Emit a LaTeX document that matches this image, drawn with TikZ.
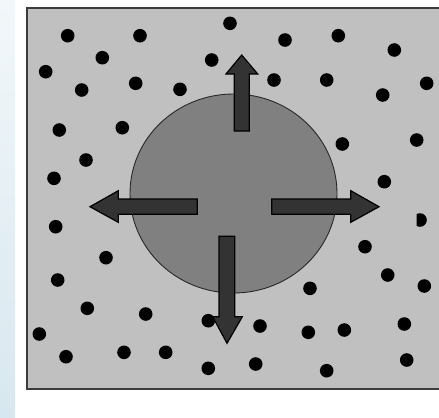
\documentclass[tikz,border=0pt]{standalone}
\usepackage{xcolor}
\usepackage{tikz}
\definecolor{bggray}{RGB}{192,192,192}
\definecolor{bubblegray}{RGB}{128,128,128}
\definecolor{arrowgray}{RGB}{51,51,51}
\definecolor{edgegray}{RGB}{60,60,60}
\definecolor{striptop}{RGB}{242,247,250}
\definecolor{stripbot}{RGB}{216,231,239}

\begin{document}
\begin{tikzpicture}[
    x=0.02cm, y=-0.02cm,
    box/.style={draw=edgegray, fill=bggray, line width=1.1pt},
    bubble/.style={draw=black!85, fill=bubblegray, line width=0.5pt},
    particle/.style={fill=black},
    pusharr/.style={draw=black, fill=arrowgray, line width=0.7pt, line join=miter},
]
\useasboundingbox (0,0) rectangle (439,417);
% side strip
\shade[top color=striptop, bottom color=stripbot] (0,0) rectangle (15,417);

% container
\draw[box] (27,8) rectangle (446,389);

% expanding region
\draw[bubble] (233.5,193.5) ellipse [x radius=103.5, y radius=99.5];

% particles
\foreach \px/\py in {67.7/35.7, 140/35.7, 230/23.3, 285/40, 338.3/35.7, 394.3/50,
    102.3/57.7, 45.7/71.7, 81.7/90, 135.7/83.3, 180/89.3, 211.7/60, 274/80,
    326.7/80, 382.7/95, 426.7/83.3, 59.3/130, 122.3/127.7, 342.3/144,
    416.7/140, 86/160, 54/178.3, 384.3/181.7, 55.7/226.7, 106/257.7,
    365/246.7, 57.7/280, 387.7/275, 424.3/286, 310/288.3, 87.3/308.3,
    145.7/314, 208.3/320.7, 260/326, 308.3/332.3, 344.3/330, 404.3/324,
    39.3/334, 66/356.7, 124/352.3, 165.7/352.3, 208.3/368.3, 255.7/364,
    326.7/370.7, 406.7/360}
  \fill[particle] (\px,\py) circle [radius=6.8];
\begin{scope}
  \clip (416.5,205) rectangle (440,235);
  \fill[particle] (420,220) circle [radius=6.8];
\end{scope}

% push arrows
\draw[pusharr] (234.3,131) -- (234.3,74) -- (226,74) -- (241.7,55) -- (257.7,74) -- (249.3,74) -- (249.3,131) -- cycle;
\draw[pusharr] (219,236.3) -- (219,316.7) -- (212.7,316.7) -- (227,343.3) -- (242.3,316.7) -- (234.7,316.7) -- (234.7,236.3) -- cycle;
\draw[pusharr] (197.3,199) -- (118.3,199) -- (118.3,190.7) -- (90,206.7) -- (118.3,222.3) -- (118.3,214.3) -- (197.3,214.3) -- cycle;
\draw[pusharr] (271.7,199) -- (350.7,199) -- (350.7,190.7) -- (379,206.7) -- (350.7,222.3) -- (350.7,214.3) -- (271.7,214.3) -- cycle;
\end{tikzpicture}
\end{document}
